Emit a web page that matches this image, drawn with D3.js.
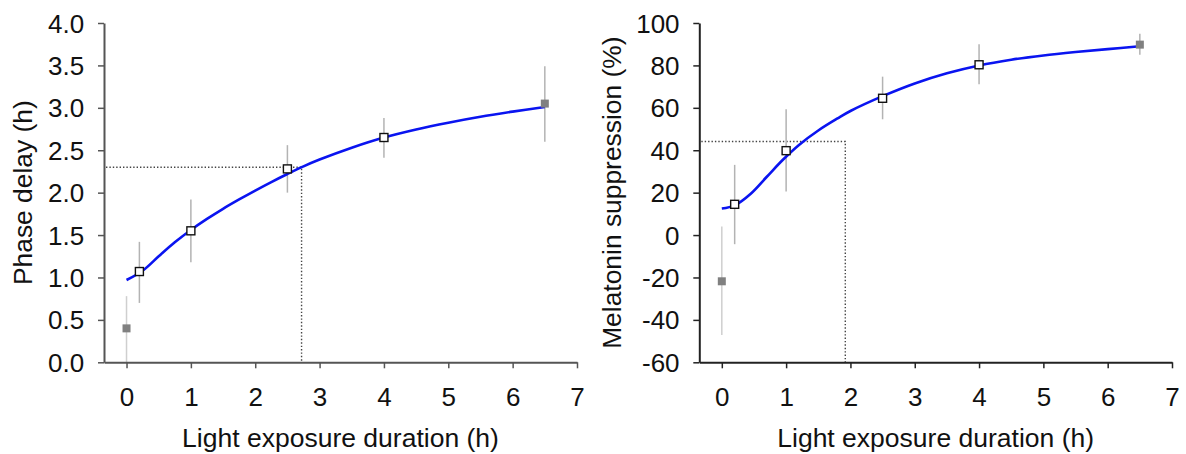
<!DOCTYPE html>
<html><head><meta charset="utf-8">
<script src="https://cdn.jsdelivr.net/npm/d3@7"></script>
<style>
body{margin:0;background:#fff}
svg{display:block}
text{font-family:"Liberation Sans",Arial,Helvetica,sans-serif;fill:#111}
</style>
</head><body>
<svg id="chart" width="1186" height="454"></svg>
<script>
// ---------- Data: Phase delay panel ----------
const phaseX      = [0, 0.2, 1, 2.5, 4, 6.5];
const phaseMean   = [0.40, 1.07, 1.55, 2.28, 2.65, 3.05];
const phaseLow    = [0.00, 0.70, 1.18, 2.00, 2.41, 2.60];
const phaseHigh   = [0.78, 1.42, 1.92, 2.56, 2.88, 3.49];
const phaseFilled = [true, false, false, false, false, true];
const phaseFitX   = [0, 0.25, 0.5, 0.75, 1, 1.25, 1.5, 1.75, 2, 2.25, 2.5, 2.75, 3, 3.5, 4, 4.5, 5, 5.5, 6, 6.5];
const phaseFitY   = [0.97, 1.08, 1.25, 1.415, 1.56, 1.69, 1.81, 1.92, 2.025, 2.125, 2.22, 2.31, 2.39, 2.53, 2.65, 2.745, 2.825, 2.895, 2.955, 3.01];
const phaseRef    = [2.72, 2.3];
const phaseTicksY = [0, 0.5, 1, 1.5, 2, 2.5, 3, 3.5, 4];

// ---------- Data: Melatonin suppression panel ----------
const melX      = [0, 0.2, 1, 2.5, 4, 6.5];
const melMean   = [-21.8, 14.5, 39.8, 64.5, 80.3, 89.8];
const melLow    = [-47.1, -4.3, 20.5, 54.6, 71.1, 85.0];
const melHigh   = [4.0, 33.1, 59.3, 74.7, 90.0, 94.9];
const melFilled = [true, false, false, false, false, true];
const melFitX   = [0, 0.2, 0.45, 0.7, 0.95, 1.2, 1.5, 1.8, 2, 2.5, 3, 3.5, 4, 4.5, 5, 5.5, 6, 6.5];
const melFitY   = [12.5, 14.0, 19.5, 27.5, 35.5, 42.5, 49.3, 55.0, 58.5, 65.5, 71.5, 76.3, 80.0, 82.7, 84.7, 86.3, 87.7, 89.0];
const melRef    = [1.92, 44.1];
const melTicksY = [-60, -40, -20, 0, 20, 40, 60, 80, 100];

const xTicks = [0, 1, 2, 3, 4, 5, 6, 7];
const xTitle = "Light exposure duration (h)";

const svg = d3.select("#chart");

function panel(opts) {
  const {left, right, top, bottom, yDomain, yTicks, yFmt, yTitle, yTitleX,
         xs, mean, low, high, filled, fitX, fitY, ref, axisColor} = opts;
  const x = d3.scaleLinear().domain([-0.35, 7]).range([left, right]);
  const y = d3.scaleLinear().domain(yDomain).range([bottom, top]);
  const g = svg.append("g");

  // dotted reference lines
  g.append("path")
    .attr("d", `M${left + 2},${y(ref[1])}H${x(ref[0])}V${bottom}`)
    .attr("fill", "none").attr("stroke", "#444").attr("stroke-width", 1.4)
    .attr("stroke-dasharray", "1.4,2");

  // error bars
  g.selectAll(".err").data(xs).join("line")
    .attr("x1", d => x(d)).attr("x2", d => x(d))
    .attr("y1", (d, i) => y(low[i])).attr("y2", (d, i) => y(high[i]))
    .attr("stroke", (d, i) => i === 0 ? "#cfcfcf" : "#b3b3b3").attr("stroke-width", 1.5);

  // fitted curve
  const line = d3.line().x(d => x(d[0])).y(d => y(d[1])).curve(d3.curveCatmullRom.alpha(0.5));
  g.append("path").datum(fitX.map((v, i) => [v, fitY[i]]))
    .attr("d", line).attr("fill", "none").attr("stroke", "#0a14f0").attr("stroke-width", 2.6);

  // markers
  const s = 8;
  g.selectAll(".mk").data(xs).join("rect")
    .attr("x", d => x(d) - s / 2)
    .attr("y", (d, i) => y(mean[i]) - s / 2)
    .attr("width", s).attr("height", s)
    .attr("fill", (d, i) => filled[i] ? "#808080" : "#fff")
    .attr("stroke", (d, i) => filled[i] ? "none" : "#111")
    .attr("stroke-width", 1.4);

  // axes
  const ax = g.append("g").attr("transform", `translate(0,${bottom})`)
    .call(d3.axisBottom(x).tickValues(xTicks).tickSize(6).tickSizeOuter(0).tickFormat(d => String(d)));
  const ay = g.append("g").attr("transform", `translate(${left},0)`)
    .call(d3.axisLeft(y).tickValues(yTicks).tickSize(6).tickSizeOuter(0).tickFormat(yFmt));
  [ax, ay].forEach(a => {
    a.select(".domain").attr("stroke", axisColor).attr("stroke-width", 2);
    a.selectAll(".tick line").attr("stroke", axisColor).attr("stroke-width", 1.5);
    a.selectAll("text").attr("font-size", 25).attr("fill", "#111")
      .attr("font-family", '"Liberation Sans",Arial,sans-serif');
  });
  ax.selectAll("text").attr("y", 43.5).attr("dy", 0).attr("transform", "scale(1.04,1)");
  ay.selectAll("text").attr("x", -19).attr("dy", "0.36em").attr("transform", "scale(1.04,1)");

  // x title
  g.append("text")
    .attr("transform", `translate(${(left + right) / 2},446.5) scale(1.04,1)`)
    .attr("text-anchor", "middle").attr("font-size", 25.5).text(xTitle);
  // y title
  g.append("text")
    .attr("transform", `translate(${yTitleX},${(top + bottom) / 2}) rotate(-90)`)
    .attr("text-anchor", "middle").attr("font-size", 26.4).text(yTitle);
}

panel({
  left: 104, right: 577, top: 23, bottom: 362.3,
  yDomain: [0, 4], yTicks: phaseTicksY, yFmt: d => d.toFixed(1),
  yTitle: "Phase delay (h)", yTitleX: 32,
  xs: phaseX, mean: phaseMean, low: phaseLow, high: phaseHigh, filled: phaseFilled,
  fitX: phaseFitX, fitY: phaseFitY, ref: phaseRef, axisColor: "#555"
});

panel({
  left: 699.3, right: 1172, top: 23, bottom: 362.3,
  yDomain: [-60, 100], yTicks: melTicksY, yFmt: d => String(d),
  yTitle: "Melatonin suppression (%)", yTitleX: 621,
  xs: melX, mean: melMean, low: melLow, high: melHigh, filled: melFilled,
  fitX: melFitX, fitY: melFitY, ref: melRef, axisColor: "#222"
});
</script>
</body></html>
